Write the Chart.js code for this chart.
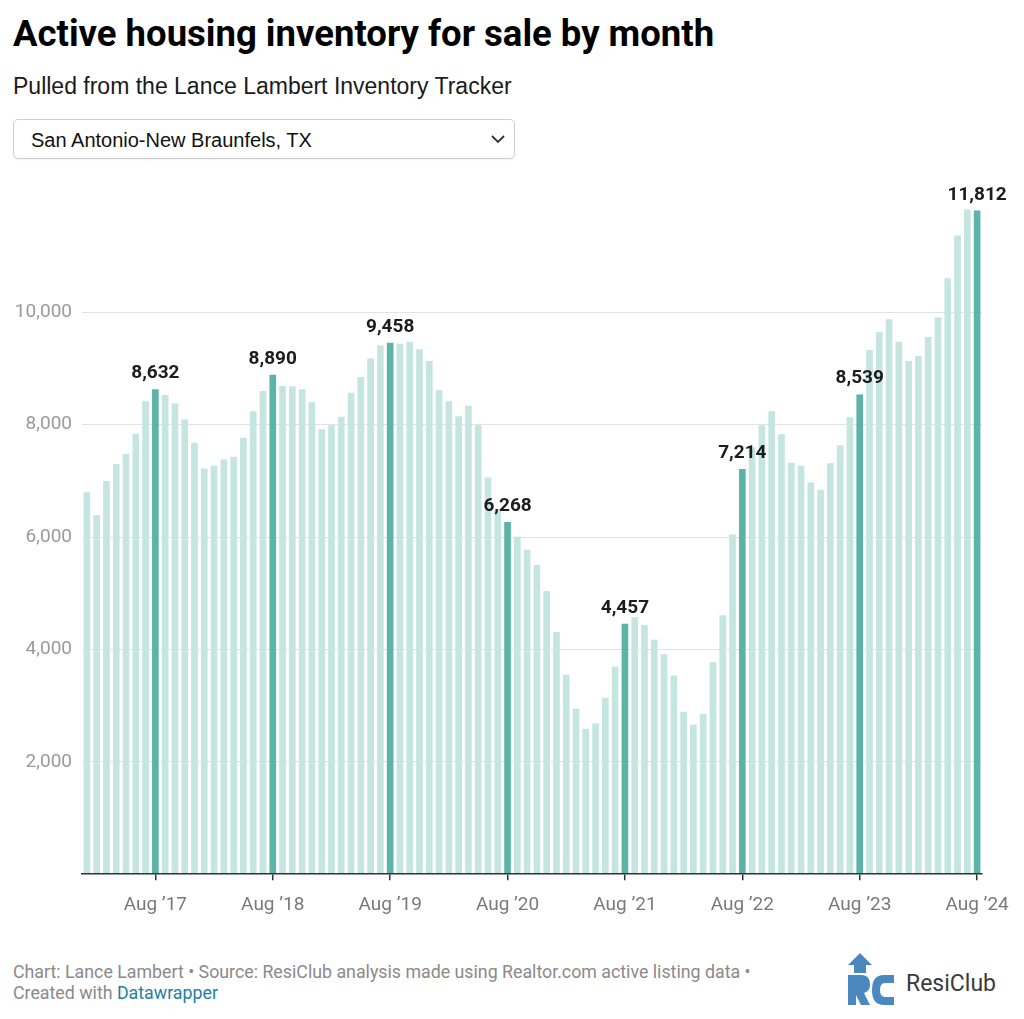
<!DOCTYPE html>
<html>
<head>
<meta charset="utf-8">
<script src="https://cdn.jsdelivr.net/npm/chart.js@4/dist/chart.umd.min.js"></script>
<style>
html,body{margin:0;padding:0;background:#fff;}
body{width:1024px;height:1019px;position:relative;overflow:hidden;font-family:Roboto,sans-serif;}
#title{position:absolute;left:13px;top:16px;font-family:Roboto;font-weight:700;font-size:36.5px;line-height:1;color:#000;white-space:nowrap;}
#subtitle{position:absolute;left:13px;top:75px;font-family:"Liberation Sans",Arial,sans-serif;font-size:23px;line-height:1;color:#1a1a1a;white-space:nowrap;}
#dropdown{position:absolute;left:13px;top:119px;width:500px;height:38px;border:1px solid #cfcfcf;border-radius:5px;box-shadow:0 1px 2px rgba(0,0,0,0.06);}
#dropdown span{position:absolute;left:17px;top:10px;font-family:"Liberation Sans",Arial,sans-serif;font-size:20px;line-height:1;color:#111;white-space:nowrap;}
#dropdown svg{position:absolute;right:8px;top:13px;}
#chartwrap{position:absolute;left:0;top:170px;width:1024px;height:770px;}
#footer{position:absolute;left:13px;top:961px;font-family:Roboto;font-size:17.8px;line-height:21px;color:#8a8a8a;white-space:nowrap;}
#footer a{color:#1d81a2;text-decoration:none;}
#logo{position:absolute;left:846px;top:953px;}
#logotext{position:absolute;left:906px;top:972px;font-family:Roboto;font-size:23px;line-height:1;color:#3a3a3a;}
</style>
</head>
<body>
<div id="title">Active housing inventory for sale by month</div>
<div id="subtitle">Pulled from the Lance Lambert Inventory Tracker</div>
<div id="dropdown"><span>San Antonio-New Braunfels, TX</span>
<svg width="16" height="12" viewBox="0 0 16 12"><polyline points="2,3 8,9 14,3" fill="none" stroke="#333" stroke-width="1.8"/></svg>
</div>
<div id="chartwrap"><canvas id="c" width="1024" height="770"></canvas></div>
<div id="footer">Chart: Lance Lambert • Source: ResiClub analysis made using Realtor.com active listing data •<br>Created with <a>Datawrapper</a></div>
<svg id="logo" width="50" height="52" viewBox="0 0 50 52">
  <polygon points="14,0 26,12 20,12 20,20 8,20 8,12 2,12" fill="#4a88bf"/>
  <path d="M2,22 H16 Q24,22 24,32 Q24,38 18,40 L24,52 H15 L10,42 H10 V52 H2 Z" fill="#4a88bf"/>
  <path d="M48,22 H38 Q26,22 26,37 Q26,52 38,52 H48 V44 H39 Q34,44 34,37 Q34,30 39,30 H48 Z" fill="#4a88bf"/>
</svg>
<div id="logotext">ResiClub</div>
<script>
const categories = [
  'Jan 2017','Feb 2017','Mar 2017','Apr 2017','May 2017','Jun 2017','Jul 2017','Aug 2017','Sep 2017','Oct 2017','Nov 2017','Dec 2017',
  'Jan 2018','Feb 2018','Mar 2018','Apr 2018','May 2018','Jun 2018','Jul 2018','Aug 2018','Sep 2018','Oct 2018','Nov 2018','Dec 2018',
  'Jan 2019','Feb 2019','Mar 2019','Apr 2019','May 2019','Jun 2019','Jul 2019','Aug 2019','Sep 2019','Oct 2019','Nov 2019','Dec 2019',
  'Jan 2020','Feb 2020','Mar 2020','Apr 2020','May 2020','Jun 2020','Jul 2020','Aug 2020','Sep 2020','Oct 2020','Nov 2020','Dec 2020',
  'Jan 2021','Feb 2021','Mar 2021','Apr 2021','May 2021','Jun 2021','Jul 2021','Aug 2021','Sep 2021','Oct 2021','Nov 2021','Dec 2021',
  'Jan 2022','Feb 2022','Mar 2022','Apr 2022','May 2022','Jun 2022','Jul 2022','Aug 2022','Sep 2022','Oct 2022','Nov 2022','Dec 2022',
  'Jan 2023','Feb 2023','Mar 2023','Apr 2023','May 2023','Jun 2023','Jul 2023','Aug 2023','Sep 2023','Oct 2023','Nov 2023','Dec 2023',
  'Jan 2024','Feb 2024','Mar 2024','Apr 2024','May 2024','Jun 2024','Jul 2024','Aug 2024'
];
const inventory = [
  6800, 6390, 7000, 7300, 7480, 7840, 8420, 8632, 8530, 8376, 8095, 7680,
  7220, 7270, 7380, 7430, 7770, 8240, 8600, 8890, 8690, 8685, 8630, 8400,
  7920, 7990, 8140, 8570, 8850, 9180, 9410, 9458, 9440, 9475, 9345, 9135,
  8620, 8420, 8150, 8340, 7990, 7060, 6500, 6268, 6005, 5775, 5505, 5040,
  4310, 3552, 2944, 2591, 2681, 3141, 3696, 4457, 4573, 4430, 4173, 3916,
  3535, 2890, 2658, 2850, 3773, 4609, 6048, 7214, 7600, 7990, 8240, 7832,
  7325, 7271, 6972, 6842, 7313, 7635, 8131, 8539, 9330, 9652, 9879, 9479,
  9133, 9222, 9562, 9908, 10606, 11368, 11833, 11812
];
const highlightCategories = ['Aug 2017','Aug 2018','Aug 2019','Aug 2020','Aug 2021','Aug 2022','Aug 2023','Aug 2024'];
const tickLabels = ['Aug ’17','Aug ’18','Aug ’19','Aug ’20','Aug ’21','Aug ’22','Aug ’23','Aug ’24'];
const yTicks = [2000, 4000, 6000, 8000, 10000];

const LIGHT = '#c4e5e0';
const DARK = '#5cb3a8';

function tickFor(i){
  const k = highlightCategories.indexOf(categories[i]);
  return k >= 0 ? tickLabels[k] : '';
}

const labelPlugin = {
  id: 'valueLabels',
  afterDatasetsDraw(chart){
    const meta = chart.getDatasetMeta(0);
    const ctx = chart.ctx;
    ctx.save();
    ctx.font = '700 19px Roboto';
    ctx.fillStyle = '#1c1c1c';
    ctx.textAlign = 'center';
    ctx.textBaseline = 'alphabetic';
    highlightCategories.forEach(c => {
      const i = categories.indexOf(c);
      const el = meta.data[i];
      ctx.fillText(inventory[i].toLocaleString('en-US'), el.x, el.y - 11);
    });
    ctx.restore();
  }
};

new Chart(document.getElementById('c'), {
  type: 'bar',
  data: {
    labels: categories,
    datasets: [{
      data: inventory,
      backgroundColor: categories.map(c => highlightCategories.includes(c) ? DARK : LIGHT),
      barPercentage: 0.68,
      categoryPercentage: 1.0
    }]
  },
  options: {
    responsive: false,
    animation: false,
    layout: { padding: { top: 30, right: 42, bottom: 9, left: 0 } },
    plugins: { legend: { display: false }, tooltip: { enabled: false } },
    scales: {
      x: {
        offset: true,
        grid: {
          display: true,
          offset: false,
          drawOnChartArea: false,
          drawTicks: true,
          tickLength: 6,
          lineWidth: 1.5,
          color: c => tickFor(c.index) ? '#333' : 'rgba(0,0,0,0)'
        },
        border: { display: true, color: '#333', width: 1.5, z: 1 },
        ticks: {
          autoSkip: false,
          maxRotation: 0,
          minRotation: 0,
          padding: 14,
          color: '#7a7a7a',
          font: { family: 'Roboto', size: 19 },
          callback: (v, i) => tickFor(i)
        }
      },
      y: {
        min: 0,
        max: 12000,
        afterFit: s => { s.width = 82; },
        afterBuildTicks: s => { s.ticks = yTicks.map(v => ({ value: v })); },
        grid: { color: '#e2e2e2', drawTicks: false, lineWidth: 1 },
        border: { display: false },
        ticks: {
          padding: 10,
          color: '#9a9a9a',
          font: { family: 'Roboto', size: 19 },
          callback: v => v.toLocaleString('en-US')
        }
      }
    }
  },
  plugins: [labelPlugin]
});
</script>
</body>
</html>
